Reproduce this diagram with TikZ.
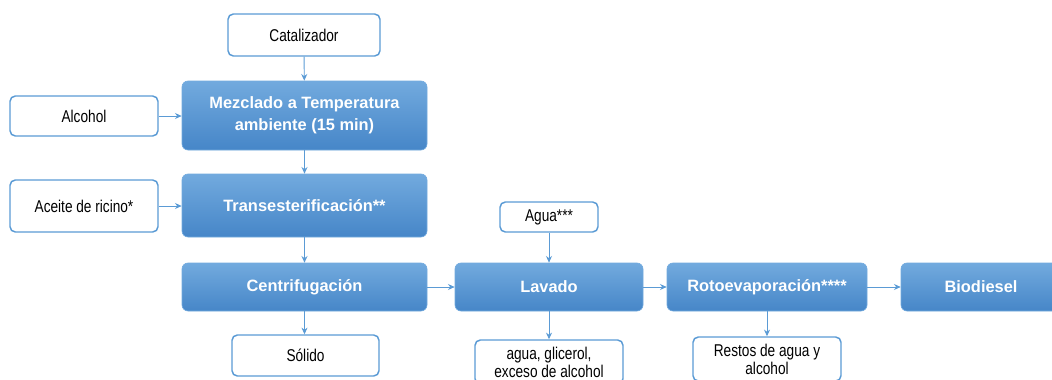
\documentclass[tikz,border=0pt]{standalone}
\usepackage{fontspec}
\setmainfont{Liberation Sans}
\newfontfamily\narrowfont{Liberation Sans}[FakeStretch=0.8]
\usetikzlibrary{arrows.meta}
\definecolor{azul}{RGB}{91,155,213}
\definecolor{azulclaro}{RGB}{114,170,222}
\definecolor{azuloscuro}{RGB}{70,134,200}

\begin{document}
\begin{tikzpicture}[x=0.75pt,y=-0.75pt,
    proc/.style={rectangle,rounded corners=4.5pt,top color=azulclaro,bottom color=azuloscuro,
      draw=azulclaro,line width=0.5pt,text=white,align=center,inner sep=0pt,
      font=\bfseries\fontsize{12.3}{16.5}\selectfont},
    entrada/.style={rectangle,rounded corners=4pt,draw=azul,line width=1.1pt,fill=white,
      align=center,inner sep=0pt,font=\narrowfont\fontsize{12.8}{13.5}\selectfont},
    flecha/.style={-{Stealth[length=5pt,width=4.5pt]},draw=azul,line width=0.7pt}]
    \useasboundingbox (0,0) rectangle (1052,379);

    % entradas
    \node[entrada,minimum width=114pt,minimum height=31.5pt] (cat) at (304,35) {Catalizador};
    \node[entrada,minimum width=111pt,minimum height=30pt] (alc) at (84,116) {Alcohol};
    \node[entrada,minimum width=111pt,minimum height=39pt] (ace) at (84,206) {Aceite de ricino*};
    \node[entrada,minimum width=73.5pt,minimum height=22.5pt] (agu) at (549,217) {Agua***};

    % etapas del proceso
    \node[proc,minimum width=183.75pt,minimum height=51.75pt] (mez) at (304.5,115.5) {Mezclado a Temperatura\\ambiente (15 min)};
    \node[proc,minimum width=183.75pt,minimum height=47.25pt] (tra) at (304.5,205.5) {Transesterificación**};
    \node[proc,minimum width=183.75pt,minimum height=36pt] (cen) at (304.5,287) {Centrifugación};
    \node[proc,minimum width=141pt,minimum height=36pt] (lav) at (549,287) {Lavado};
    \node[proc,minimum width=150pt,minimum height=36pt] (rot) at (767,287) {Rotoevaporación****};
    \node[proc,minimum width=120pt,minimum height=36pt] (bio) at (981,287) {Biodiesel};

    % salidas
    \node[entrada,minimum width=110.25pt,minimum height=30.75pt] (sol) at (305.5,355.5) {Sólido};
    \node[entrada,minimum width=111pt,minimum height=33pt] (gli) at (549,362) {agua, glicerol,\\exceso de alcohol};
    \node[entrada,minimum width=111pt,minimum height=33pt] (res) at (767,359) {Restos de agua y\\alcohol};

    \draw[flecha] (cat) -- (mez);
    \draw[flecha] (alc) -- (mez.west |- alc);
    \draw[flecha] (mez) -- (tra);
    \draw[flecha] (ace) -- (tra.west |- ace);
    \draw[flecha] (tra) -- (cen);
    \draw[flecha] (cen) -- (sol.north -| cen);
    \draw[flecha] (cen) -- (lav);
    \draw[flecha] (agu) -- (lav);
    \draw[flecha] (lav) -- (gli);
    \draw[flecha] (lav) -- (rot);
    \draw[flecha] (rot) -- (res);
    \draw[flecha] (rot) -- (bio);
\end{tikzpicture}
\end{document}
